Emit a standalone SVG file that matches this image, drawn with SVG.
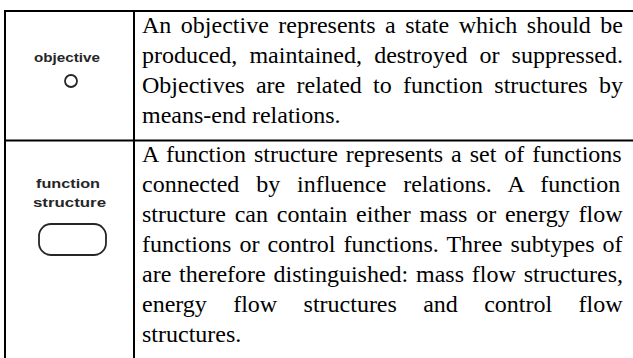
<svg xmlns="http://www.w3.org/2000/svg" width="633" height="358" viewBox="0 0 633 358">
<style>
.grid{stroke:#000;stroke-width:2;fill:none}
.body{font-family:"Liberation Serif","Times New Roman",serif;font-size:24px;fill:#000}
.lbl{font-family:"Liberation Sans",Arial,sans-serif;font-size:12.5px;font-weight:bold;fill:#262626;text-anchor:middle}
.sym{fill:none;stroke:#262626;stroke-width:1.8}
</style>
<rect width="633" height="358" fill="#fff"/>
<g id="table" class="grid">
<line x1="4" y1="11" x2="633" y2="11"/>
<line x1="5" y1="10" x2="5" y2="358"/>
<line x1="134" y1="11" x2="134" y2="358"/>
<line x1="5" y1="140.5" x2="633" y2="140.5"/>
</g>
<g id="objective">
<text class="lbl" x="67" y="62" textLength="66" lengthAdjust="spacingAndGlyphs">objective</text>
<circle class="sym" cx="71" cy="81" r="6"/>
</g>
<g id="objective-description" class="body">
<text x="142" y="33" word-spacing="3.49">An objective represents a state which should be</text>
<text x="142" y="63" word-spacing="6.1">produced, maintained, destroyed or suppressed.</text>
<text x="142" y="93" word-spacing="5.29">Objectives are related to function structures by</text>
<text x="142" y="123">means-end relations.</text>
</g>
<g id="function-structure">
<text class="lbl" x="68" y="188" textLength="64" lengthAdjust="spacingAndGlyphs">function</text>
<text class="lbl" x="69.5" y="207" textLength="73" lengthAdjust="spacingAndGlyphs">structure</text>
<rect class="sym" x="39" y="224" width="67" height="31" rx="12" ry="12" stroke-width="2"/>
</g>
<g id="function-structure-description" class="body">
<text x="142" y="162" word-spacing="1.97">A function structure represents a set of functions</text>
<text x="142" y="192" word-spacing="10.88">connected by influence relations. A function</text>
<text x="142" y="222" word-spacing="2.73">structure can contain either mass or energy flow</text>
<text x="142" y="252" word-spacing="2.07">functions or control functions. Three subtypes of</text>
<text x="142" y="282" word-spacing="1.82">are therefore distinguished: mass flow structures,</text>
<text x="142" y="312" word-spacing="20.35">energy flow structures and control flow</text>
<text x="142" y="342">structures.</text>
</g>
<g id="connectors"/>
</svg>
